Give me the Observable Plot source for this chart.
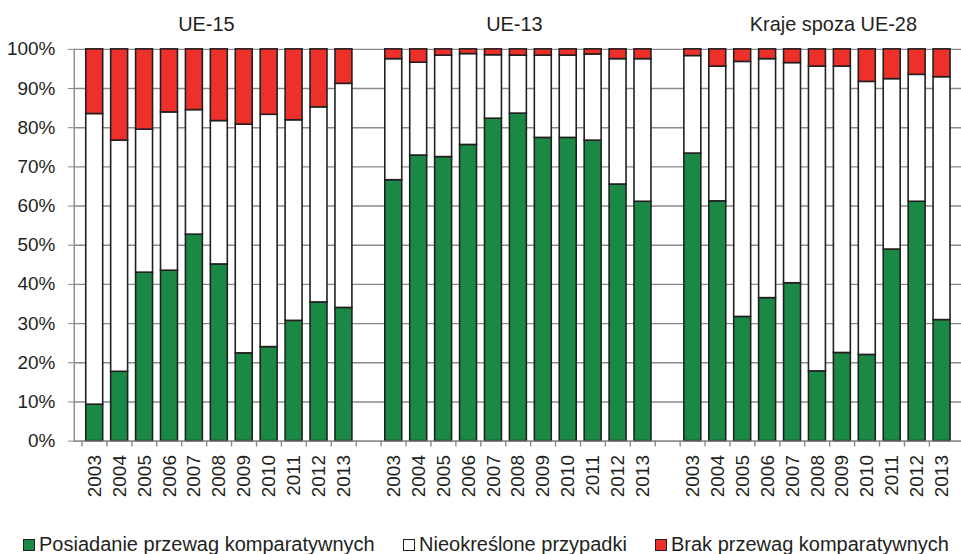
<!DOCTYPE html>
<html>
<head>
<meta charset="utf-8">
<script src="https://cdn.jsdelivr.net/npm/d3@7"></script>
<script src="https://cdn.jsdelivr.net/npm/@observablehq/plot@0.6"></script>
<style>
  html, body { margin: 0; padding: 0; background: #fff; overflow: hidden; }
  #wrap { position: relative; width: 961px; height: 554px; overflow: hidden; font-family: "Liberation Sans", Arial, sans-serif; color: #231f20; }
  .leg { position: absolute; top: 533px; font-size: 20px; white-space: nowrap; display: flex; align-items: center; }
  .sw { display: inline-block; width: 10px; height: 10px; border: 1.6px solid #231f20; margin-right: 4px; }
</style>
</head>
<body>
<div id="wrap"></div>
<script>
const groups = ["UE-15", "UE-13", "Kraje spoza UE-28"];
const years = ["2003","2004","2005","2006","2007","2008","2009","2010","2011","2012","2013"];
const seriesNames = ["Posiadanie przewag komparatywnych", "Nieokreślone przypadki", "Brak przewag komparatywnych"];
const seriesColors = ["#1a8945", "#ffffff", "#ee302b"];

// UE-15
const ue15Green = [9.3, 17.7, 43.0, 43.5, 52.7, 45.1, 22.4, 24.0, 30.7, 35.4, 34.0];
const ue15White = [74.2, 59.0, 36.5, 40.4, 31.8, 36.6, 58.4, 59.3, 51.2, 49.8, 57.2];
const ue15Red   = [16.5, 23.3, 20.5, 16.1, 15.5, 18.3, 19.2, 16.7, 18.1, 14.8, 8.8];
// UE-13
const ue13Green = [66.6, 72.9, 72.5, 75.6, 82.3, 83.6, 77.4, 77.4, 76.7, 65.5, 61.1];
const ue13White = [30.9, 23.7, 25.9, 23.2, 16.2, 14.8, 21.0, 21.0, 22.0, 32.0, 36.4];
const ue13Red   = [2.5, 3.4, 1.6, 1.2, 1.5, 1.6, 1.6, 1.6, 1.3, 2.5, 2.5];
// Kraje spoza UE-28
const nonGreen = [73.4, 61.2, 31.7, 36.5, 40.3, 17.8, 22.5, 22.0, 48.9, 61.1, 30.9];
const nonWhite = [24.9, 34.4, 65.1, 61.0, 56.2, 77.8, 73.1, 69.7, 43.5, 32.4, 62.0];
const nonRed   = [1.7, 4.4, 3.2, 2.5, 3.5, 4.4, 4.4, 8.3, 7.6, 6.5, 7.1];

const yTicks = [0, 10, 20, 30, 40, 50, 60, 70, 80, 90, 100];

const groupSeries = [
  [ue15Green, ue15White, ue15Red],
  [ue13Green, ue13White, ue13Red],
  [nonGreen, nonWhite, nonRed]
];

// x domain: 11 years per group with an empty slot between groups
const keys = [];
groups.forEach((g, gi) => {
  if (gi > 0) keys.push("gap" + gi);
  years.forEach(y => keys.push(g + "|" + y));
});

const rows = [];
groups.forEach((g, gi) => {
  years.forEach((y, yi) => {
    seriesNames.forEach((s, si) => {
      rows.push({key: g + "|" + y, series: s, order: si, value: groupSeries[gi][si][yi]});
    });
  });
});

const W = 964, H = 520;
const mL = 74, mR = 0, mT = 49, mB = 78;
const step = (W - mL - mR) / keys.length;

const titleOffsets = [-13, -4, 16];
const titleMarks = groups.map((g, gi) => Plot.text([g], {
  x: () => g + "|2008", text: d => d, frameAnchor: "top",
  lineAnchor: "top", dy: -33, dx: titleOffsets[gi], fontSize: 20, fill: "#231f20"
}));

const chart = Plot.plot({
  width: W,
  height: H,
  marginLeft: mL,
  marginRight: mR,
  marginTop: mT,
  marginBottom: mB,
  style: {fontFamily: "'Liberation Sans', Arial, sans-serif", fontSize: "18px", color: "#231f20", background: "#fff"},
  x: {type: "band", domain: keys, paddingInner: 0.33, paddingOuter: 0.165, axis: null, label: null},
  y: {domain: [0, 100], axis: null, label: null},
  color: {domain: seriesNames, range: seriesColors},
  marks: [
    Plot.gridY(yTicks, {stroke: "#8a8a8a", strokeOpacity: 1, strokeWidth: 1.4}),
    Plot.barY(rows, Plot.stackY({
      x: "key", y: "value", fill: "series", order: "order",
      stroke: "#231f20", strokeWidth: 1.6
    })),
    Plot.ruleY([0], {stroke: "#8a8a8a", strokeWidth: 1.4}),
    Plot.frame({anchor: "left", stroke: "#8a8a8a", strokeWidth: 1.4}),
    Plot.axisY(yTicks, {
      tickFormat: d => d + "%", tickSize: 6, tickPadding: 13, label: null,
      stroke: "#8a8a8a", fontSize: 19, fill: "#231f20"
    }),
    Plot.axisX(keys, {
      tickSize: 6, tickFormat: () => "", dx: -step / 2, label: null,
      stroke: "#8a8a8a", strokeWidth: 1.4
    }),
    Plot.axisX(keys, {
      tickSize: 0, tickPadding: 14, tickRotate: -90, label: null,
      tickFormat: d => d.startsWith("gap") ? "" : d.split("|")[1],
      fontSize: 19, fill: "#231f20"
    }),
    ...titleMarks
  ]
});

const wrap = document.getElementById("wrap");
wrap.appendChild(chart);

// Legend (HTML, below the chart)
const legendPos = [23, 403, 655];
seriesNames.forEach((s, i) => {
  const item = document.createElement("div");
  item.className = "leg";
  item.style.left = legendPos[i] + "px";
  const sw = document.createElement("span");
  sw.className = "sw";
  sw.style.background = seriesColors[i];
  const tx = document.createElement("span");
  tx.textContent = s;
  item.appendChild(sw);
  item.appendChild(tx);
  wrap.appendChild(item);
});
</script>
</body>
</html>
